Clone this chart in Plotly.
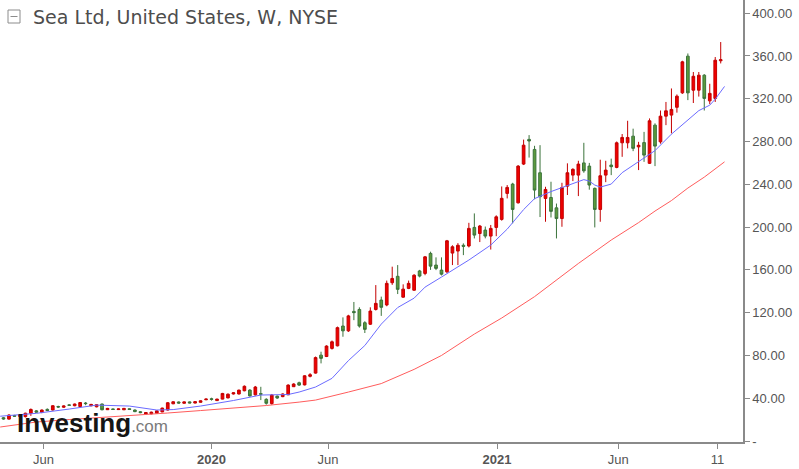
import plotly.graph_objects as go
import pandas as pd

# Weekly candles (Sunday-dated), Sea Ltd (SE), NYSE
start_date = "2019-04-07"
n_weeks = 132
opens = [21.8, 20.5, 23.8, 23.0, 22.8, 26.0, 28.2, 26.8, 29.6, 29.0,
         32.3, 31.6, 33.8, 33.0, 32.2, 35.5, 33.0, 32.0, 34.6, 29.3,
         30.0, 29.4, 29.2, 30.2, 29.0, 27.4, 25.3, 25.5, 26.0, 27.2,
         29.0, 34.8, 36.5, 35.3, 36.6, 35.5, 36.2, 38.6, 39.5, 37.8,
         39.2, 40.3, 44.0, 44.0, 47.0, 47.6, 43.2, 44.3, 39.0, 35.0,
         42.0, 41.5, 43.2, 50.8, 54.5, 52.5, 60.5, 63.5, 80.3, 79.0,
         86.6, 89.0, 107.5, 103.0, 121.2, 123.0, 110.6, 109.2, 123.0, 131.8,
         127.2, 148.0, 154.0, 134.5, 142.7, 141.0, 159.0, 156.7, 175.4, 164.5,
         159.8, 158.2, 175.7, 177.6, 183.0, 182.3, 199.7, 194.0, 197.2, 191.6,
         199.7, 207.2, 231.5, 240.2, 222.7, 258.9, 282.0, 272.6, 250.8, 226.8,
         227.7, 218.0, 208.0, 238.3, 248.6, 248.6, 260.0, 257.0, 236.2, 216.5,
         248.6, 258.0, 255.8, 278.8, 278.8, 285.0, 275.0, 279.0, 259.6, 295.3,
         279.7, 303.7, 304.7, 312.0, 325.5, 359.8, 328.0, 328.0, 342.0, 318.0,
         320.3, 355.5]
highs = [22.5, 25.0, 24.5, 25.0, 26.5, 30.5, 29.0, 29.5, 30.5, 33.5,
         33.0, 33.3, 34.5, 35.0, 36.5, 36.5, 34.8, 34.5, 35.0, 31.0,
         30.5, 30.4, 31.0, 30.5, 29.5, 28.0, 27.0, 27.5, 28.5, 31.2,
         36.5, 37.2, 37.0, 37.0, 37.0, 37.2, 38.0, 39.8, 40.5, 39.6,
         45.0, 44.5, 45.5, 48.0, 52.0, 48.5, 51.5, 50.7, 40.0, 44.0,
         42.5, 44.5, 53.0, 54.0, 55.5, 61.5, 63.5, 79.0, 83.5, 89.5,
         94.0, 107.0, 115.6, 118.0, 130.0, 125.0, 112.0, 125.0, 145.8, 135.0,
         150.0, 163.0, 164.5, 146.5, 150.0, 156.0, 160.0, 173.0, 177.0, 171.7,
         171.7, 188.0, 183.0, 185.0, 184.8, 204.0, 212.8, 202.0, 200.5, 202.0,
         211.0, 238.0, 239.3, 241.4, 258.0, 281.8, 286.0, 276.0, 276.6, 237.7,
         242.4, 222.0, 241.4, 259.6, 255.0, 262.0, 278.8, 260.0, 237.0, 263.0,
         262.0, 264.0, 280.0, 287.0, 299.4, 292.0, 279.7, 289.0, 301.6, 297.0,
         309.0, 317.0, 329.6, 324.0, 355.5, 362.3, 345.0, 345.0, 343.0, 334.0,
         359.0, 373.0]
lows = [20.0, 20.0, 22.5, 22.5, 22.0, 23.5, 26.5, 26.0, 28.0, 28.5,
        31.0, 31.0, 32.8, 32.5, 31.5, 33.5, 32.5, 31.5, 28.8, 29.0,
        29.0, 29.0, 29.0, 29.0, 27.0, 26.0, 25.0, 25.0, 25.8, 27.0,
        28.5, 34.5, 35.0, 35.0, 35.3, 35.2, 36.0, 38.2, 37.8, 37.4,
        39.0, 40.0, 43.5, 43.5, 46.5, 41.5, 42.5, 38.3, 34.0, 34.0,
        39.5, 41.0, 43.0, 50.5, 51.5, 52.0, 59.5, 63.0, 72.6, 78.5,
        85.5, 88.5, 97.5, 102.0, 113.0, 106.0, 101.0, 108.5, 122.0, 117.0,
        126.0, 146.0, 137.4, 134.0, 142.0, 140.5, 153.0, 155.0, 160.0, 159.8,
        154.8, 157.0, 164.5, 164.5, 173.8, 181.0, 189.4, 186.0, 189.5, 179.0,
        191.5, 206.0, 226.8, 203.5, 222.0, 258.0, 265.0, 226.0, 209.4, 205.0,
        209.0, 189.4, 200.3, 230.0, 243.0, 229.0, 250.8, 235.0, 199.7, 205.0,
        242.0, 248.6, 255.0, 265.7, 273.6, 271.0, 253.3, 261.0, 259.0, 257.0,
        278.0, 295.3, 287.6, 307.0, 324.5, 318.7, 316.0, 322.0, 309.0, 315.0,
        317.0, 353.0]
closes = [20.6, 24.3, 23.2, 24.5, 26.0, 29.5, 27.0, 29.0, 28.5, 33.0,
          31.8, 32.8, 33.4, 34.6, 36.0, 35.0, 34.2, 34.0, 29.2, 30.5,
          29.5, 30.0, 30.5, 29.5, 27.5, 26.6, 26.6, 27.0, 28.2, 30.8,
          35.8, 36.7, 35.5, 36.6, 35.6, 36.8, 37.6, 39.2, 39.0, 39.2,
          44.5, 43.8, 45.1, 47.6, 51.2, 42.2, 50.5, 43.8, 35.3, 43.0,
          40.2, 44.0, 52.3, 53.3, 52.3, 61.0, 62.0, 78.0, 77.3, 88.8,
          92.8, 106.0, 103.0, 117.0, 120.0, 107.5, 104.4, 121.5, 128.7, 125.0,
          147.4, 152.0, 141.8, 142.0, 147.4, 155.0, 154.2, 172.2, 163.5, 161.4,
          156.0, 187.2, 181.6, 183.0, 182.0, 198.8, 192.5, 201.0, 191.6, 198.8,
          209.6, 226.9, 237.1, 216.5, 257.0, 276.6, 280.5, 234.6, 228.4, 235.2,
          214.7, 208.0, 237.0, 250.8, 254.0, 258.9, 252.6, 239.3, 216.5, 248.0,
          253.3, 256.5, 278.8, 283.8, 283.8, 273.6, 276.5, 267.3, 299.4, 275.7,
          303.7, 308.7, 310.0, 322.4, 354.5, 325.5, 341.0, 342.0, 320.3, 325.0,
          356.0, 356.5]

# Moving averages (week index from first candle, value)
ma_fast_weeks = [-0.6, 6, 12, 17, 23, 28, 31, 36, 42, 47, 52, 54, 57, 60, 63,
                 66, 69, 72, 75, 77, 80, 83, 85, 89, 92, 95, 97, 100, 103, 106,
                 107, 108, 109, 111, 113, 116, 119, 122, 124, 127, 129, 130, 131.7]
ma_fast_vals = [23.2, 25.9, 29.9, 33.6, 32.7, 29.0, 29.4, 32.7, 37.9, 43.0, 43.5,
                45.8, 50.5, 58.6, 75.2, 89.3, 109.3, 124.8, 133.6, 143.9, 153.3,
                162.6, 169.2, 183.2, 198.1, 216.4, 226.6, 233.2, 238.8, 244.4, 243.0,
                239.3, 237.4, 240.2, 250.9, 260.8, 271.5, 286.9, 295.8, 308.9, 314.0,
                319.6, 331.5]
ma_slow_weeks = [-0.6, 6, 12, 18, 24, 30, 36, 42, 48, 54, 57, 63, 69, 75, 80, 86,
                 91, 97, 102, 105, 111, 116, 119, 122, 125, 128, 131.7]
ma_slow_vals = [13.1, 17.8, 20.1, 22.0, 23.8, 26.2, 28.5, 30.8, 33.2, 36.4, 38.3,
                45.8, 53.7, 67.0, 80.0, 100.0, 115.0, 135.0, 154.2, 166.0, 187.9,
                204.2, 215.0, 224.8, 236.5, 246.7, 261.0]

tick_dates = ["2019-05-28", "2019-12-29", "2020-05-26", "2020-12-28", "2021-06-01", "2021-10-06"]
tick_text = ["Jun", "<b>2020</b>", "Jun", "<b>2021</b>", "Jun", "11"]
y_ticks = [0, 40, 80, 120, 160, 200, 240, 280, 320, 360, 400]
y_text = ["-"] + ["%.2f" % v for v in y_ticks[1:]]

base = pd.Timestamp(start_date)
dates = pd.date_range(start_date, periods=n_weeks, freq="7D")
fast_dates = [base + pd.Timedelta(days=7 * w) for w in ma_fast_weeks]
slow_dates = [base + pd.Timedelta(days=7 * w) for w in ma_slow_weeks]

fig = go.Figure()
fig.add_trace(go.Scatter(x=slow_dates, y=ma_slow_vals, mode="lines",
                         line=dict(color="#ff5c5c", width=1), hoverinfo="skip",
                         showlegend=False))
fig.add_trace(go.Scatter(x=fast_dates, y=ma_fast_vals, mode="lines",
                         line=dict(color="#6b6bff", width=1), hoverinfo="skip",
                         showlegend=False))
fig.add_trace(go.Candlestick(
    x=dates, open=opens, high=highs, low=lows, close=closes,
    increasing=dict(line=dict(color="#c40000", width=1), fillcolor="#f00000"),
    decreasing=dict(line=dict(color="#3b733b", width=1), fillcolor="#5c9a3c"),
    whiskerwidth=0, showlegend=False))

PW, PH = 743.0, 442.0  # plot area in px

def px(x):
    return x / PW

def py(y):
    return 1 - y / PH

x_left = base - pd.Timedelta(days=4.47)
x_right = base + pd.Timedelta(days=945.5)

fig.update_layout(
    width=799, height=469,
    margin=dict(l=0, r=56, t=0, b=27),
    paper_bgcolor="white", plot_bgcolor="white",
    font=dict(family="Liberation Sans, Arial, sans-serif", color="#555555"),
    showlegend=False,
    xaxis=dict(type="date", range=[x_left, x_right], rangeslider=dict(visible=False),
               showgrid=False, zeroline=False, showline=True, linecolor="#8a8a8a",
               linewidth=1.5, ticks="outside", ticklen=5, tickcolor="#8a8a8a",
               tickvals=tick_dates, ticktext=tick_text,
               tickfont=dict(size=13, color="#555555")),
    yaxis=dict(side="right", range=[-0.9, 412.3], showgrid=False, zeroline=False,
               showline=True, linecolor="#8a8a8a", linewidth=1.5, ticks="outside",
               ticklen=5, tickcolor="#8a8a8a", tickvals=y_ticks, ticktext=y_text,
               tickfont=dict(size=13, color="#555555")),
    annotations=[
        dict(xref="paper", yref="paper", x=px(31), y=py(17), xanchor="left",
             yanchor="middle", showarrow=False,
             text="Sea Ltd, United States, W, NYSE",
             font=dict(family="DejaVu Sans", size=19, color="#4d4d4d")),
        dict(xref="paper", yref="paper", x=px(15), y=py(423), xanchor="left",
             yanchor="middle", showarrow=False,
             text="<b>Investing</b><span style='font-size:17px;color:#7a7a7a'>.com</span>",
             font=dict(family="Liberation Sans", size=26, color="#151515")),
    ],
    shapes=[
        dict(type="rect", xref="paper", yref="paper", x0=px(8), x1=px(20),
             y0=py(23), y1=py(10), line=dict(color="#8c8c8c", width=1),
             fillcolor="white"),
        dict(type="line", xref="paper", yref="paper", x0=px(10.5), x1=px(17.5),
             y0=py(16.5), y1=py(16.5), line=dict(color="#8c8c8c", width=1)),
    ],
)

fig.write_html("out.html", config={"displayModeBar": False},
               post_script="document.body.style.margin='0';document.body.style.padding='0';")
